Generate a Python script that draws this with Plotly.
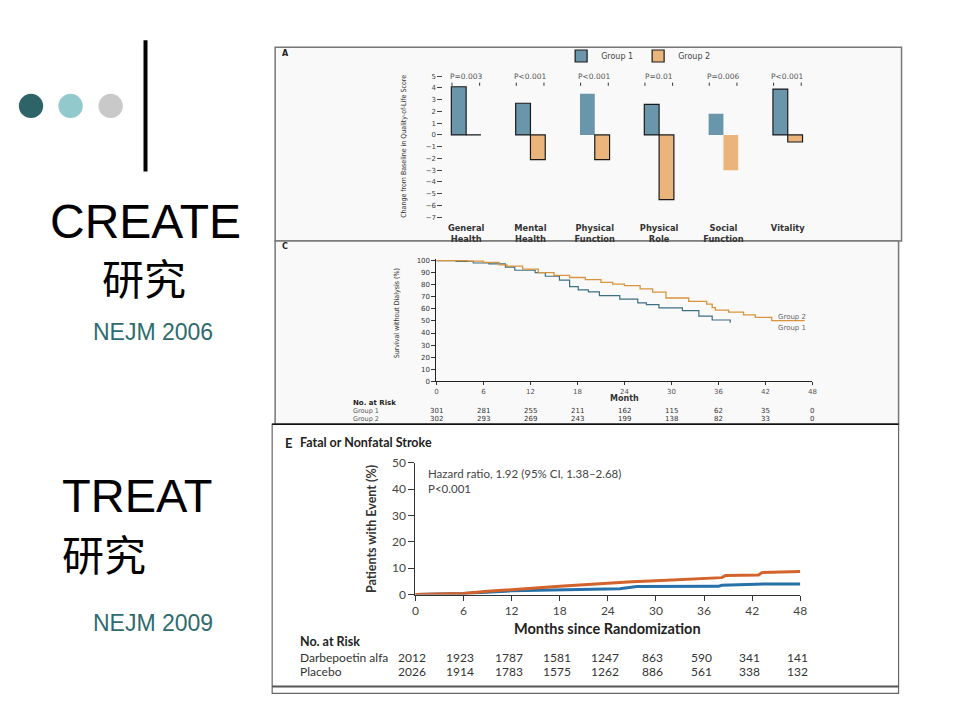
import plotly.graph_objects as go

W, H = 960, 720


def fx(p):
    return p / W


def fy(p):
    return 1 - p / H


# ---------------- Panel A: quality of life ----------------
qol_categories = ["General Health", "Mental Health", "Physical Function",
                  "Physical Role", "Social Function", "Vitality"]
qol_ticktext = ["<b>General</b><br><b>Health</b>", "<b>Mental</b><br><b>Health</b>",
                "<b>Physical</b><br><b>Function</b>", "<b>Physical</b><br><b>Role</b>",
                "<b>Social</b><br><b>Function</b>", "<b>Vitality</b>"]
qol_group1 = [4.1, 2.7, 3.5, 2.6, 1.8, 3.9]
qol_group2 = [0.0, -2.1, -2.1, -5.5, -3.0, -0.6]
qol_pvalues = ["P=0.003", "P<0.001", "P<0.001", "P=0.01", "P=0.006", "P<0.001"]
qol_yticks = [5, 4, 3, 2, 1, 0, -1, -2, -3, -4, -5, -6, -7]

# ---------------- Panel C: survival without dialysis ----------------
dial_g1_month = [0, 2.5, 4.7, 6.7, 8.8, 10.0, 12.6, 13.9, 15.7, 17.0, 18.1, 19.4,
                 20.8, 23.4, 25.7, 26.8, 28.4, 31.4, 33.5, 35.2, 37.5]
dial_g1_surv = [100, 99.4, 98.0, 97.3, 94.6, 92.0, 90.0, 87.0, 83.8, 78.4, 75.7, 74.0,
                71.0, 68.0, 64.9, 63.5, 60.8, 58.6, 54.0, 50.8, 48.6]
dial_g2_month = [0, 4.0, 6.0, 8.0, 9.0, 11.0, 13.0, 15.0, 17.0, 19.0, 21.0, 22.5,
                 24.0, 26.0, 27.6, 29.3, 32.2, 34.5, 35.2, 35.6, 37.3, 39.2, 40.7,
                 42.8, 47.0]
dial_g2_surv = [100, 99.5, 98.5, 96.5, 95.4, 93.0, 90.0, 87.8, 86.0, 84.3, 82.0, 80.5,
                79.2, 76.5, 73.8, 69.0, 66.2, 64.0, 61.0, 59.0, 57.3, 55.1, 53.0,
                50.3, 50.3]
risk_months = [0, 6, 12, 18, 24, 30, 36, 42, 48]
dial_risk_g1 = [301, 281, 255, 211, 162, 115, 62, 35, 0]
dial_risk_g2 = [302, 293, 269, 243, 199, 138, 82, 33, 0]
dial_yticks = [0, 10, 20, 30, 40, 50, 60, 70, 80, 90, 100]

# ---------------- Panel E: fatal or nonfatal stroke ----------------
stroke_darb_month = [0, 3, 6, 9, 12, 15, 18, 21, 24, 27, 30, 33, 36, 38.2, 38.7,
                     42.8, 43.2, 48]
stroke_darb_pct = [0, 0.2, 0.4, 1.2, 1.9, 2.5, 3.1, 3.7, 4.3, 4.8, 5.2, 5.7, 6.2,
                   6.4, 7.2, 7.4, 8.3, 8.7]
stroke_plac_month = [0, 6, 12, 18, 24, 25.5, 27.6, 37.8, 38.2, 43.5, 48]
stroke_plac_pct = [0, 0.4, 1.4, 1.8, 2.1, 2.2, 3.0, 3.1, 3.5, 4.0, 4.0]
stroke_risk_darb = [2012, 1923, 1787, 1581, 1247, 863, 590, 341, 141]
stroke_risk_plac = [2026, 1914, 1783, 1575, 1262, 886, 561, 338, 132]
stroke_yticks = [0, 10, 20, 30, 40, 50]

# colours
A_BLUE, A_ORANGE = "#6a96ac", "#ebb47b"
C_BLUE, C_ORANGE = "#3e6f82", "#d9943e"
E_BLUE, E_ORANGE = "#2671a9", "#d3622b"
SMALL = "DejaVu Sans"
COND = "DejaVu Sans Condensed, Liberation Sans Narrow, DejaVu Sans"
LATO = "Lato"

fig = go.Figure()

# Panel A bars
fig.add_trace(go.Bar(
    x=qol_categories, y=qol_group1, name="Group 1",
    marker=dict(color=A_BLUE, line=dict(color="#1a1a1a", width=[1.2, 1.2, 0, 1.2, 0, 1.2])),
    xaxis="x", yaxis="y"))
fig.add_trace(go.Bar(
    x=qol_categories, y=qol_group2, name="Group 2",
    marker=dict(color=A_ORANGE, line=dict(color="#1a1a1a", width=[1.2, 1.2, 1.2, 1.2, 0, 1.2])),
    xaxis="x", yaxis="y"))

# Panel C curves
fig.add_trace(go.Scatter(x=dial_g1_month, y=dial_g1_surv, mode="lines", line_shape="hv",
                         line=dict(color=C_BLUE, width=1.2), showlegend=False,
                         xaxis="x2", yaxis="y2"))
fig.add_trace(go.Scatter(x=dial_g2_month, y=dial_g2_surv, mode="lines", line_shape="hv",
                         line=dict(color=C_ORANGE, width=1.3), showlegend=False,
                         xaxis="x2", yaxis="y2"))

# Panel E curves
fig.add_trace(go.Scatter(x=stroke_plac_month, y=stroke_plac_pct, mode="lines",
                         line=dict(color=E_BLUE, width=3), showlegend=False,
                         xaxis="x3", yaxis="y3"))
fig.add_trace(go.Scatter(x=stroke_darb_month, y=stroke_darb_pct, mode="lines",
                         line=dict(color=E_ORANGE, width=3), showlegend=False,
                         xaxis="x3", yaxis="y3"))

shapes = []
annotations = []

# ---- panel frames ----
shapes.append(dict(type="rect", xref="paper", yref="paper", x0=fx(275), x1=fx(908),
                   y0=fy(238), y1=fy(40), fillcolor="#f9f9f9",
                   line=dict(color="#777777", width=1.5), layer="below"))
shapes.append(dict(type="rect", xref="paper", yref="paper", x0=fx(275), x1=fx(905),
                   y0=fy(425), y1=fy(238), fillcolor="#f9f9f9",
                   line=dict(color="#777777", width=1.5), layer="below"))
shapes.append(dict(type="rect", xref="paper", yref="paper", x0=fx(272), x1=fx(905),
                   y0=fy(700), y1=fy(425), fillcolor="white",
                   line=dict(color="#666666", width=1.2), layer="below"))
shapes.append(dict(type="line", xref="paper", yref="paper", x0=fx(272), x1=fx(905),
                   y0=fy(425), y1=fy(425), line=dict(color="#111111", width=1.5)))
shapes.append(dict(type="line", xref="paper", yref="paper", x0=fx(272), x1=fx(905),
                   y0=fy(693), y1=fy(693), line=dict(color="#555555", width=2)))

# ---- left side decoration ----
for cx, col in [(28.3, "#2e6467"), (68.3, "#92c9cd"), (108.8, "#c9c9c9")]:
    r = 12.3
    shapes.append(dict(type="circle", xref="paper", yref="paper",
                       x0=fx(cx - r), x1=fx(cx + r), y0=fy(100 + r), y1=fy(100 - r),
                       fillcolor=col, line=dict(width=0)))
shapes.append(dict(type="line", xref="paper", yref="paper", x0=fx(144), x1=fx(144),
                   y0=fy(33), y1=fy(167), line=dict(color="black", width=4)))

BIG = "Liberation Sans, Arial, sans-serif"
CJK = "Noto Sans CJK SC"
annotations += [
    dict(text="CREATE", x=fx(144), y=fy(218), xref="paper", yref="paper",
         xanchor="center", yanchor="middle", showarrow=False,
         font=dict(family=BIG, size=48, color="black")),
    dict(text="研究", x=fx(142), y=fy(274), xref="paper", yref="paper",
         xanchor="center", yanchor="middle", showarrow=False,
         font=dict(family=CJK, size=42, color="black")),
    dict(text="NEJM 2006", x=fx(152), y=fy(331), xref="paper", yref="paper",
         xanchor="center", yanchor="middle", showarrow=False,
         font=dict(family=BIG, size=23, color="#2f6b6e")),
    dict(text="TREAT", x=fx(58), y=fy(498), xref="paper", yref="paper",
         xanchor="left", yanchor="middle", showarrow=False,
         font=dict(family=BIG, size=47, color="black")),
    dict(text="研究", x=fx(58), y=fy(556), xref="paper", yref="paper",
         xanchor="left", yanchor="middle", showarrow=False,
         font=dict(family=CJK, size=42, color="black")),
    dict(text="NEJM 2009", x=fx(152), y=fy(628), xref="paper", yref="paper",
         xanchor="center", yanchor="middle", showarrow=False,
         font=dict(family=BIG, size=23, color="#2f6b6e")),
]

# ---- Panel A texts ----
annotations.append(dict(text="<b>A</b>", x=fx(280), y=fy(46), xref="paper", yref="paper",
                        xanchor="left", yanchor="middle", showarrow=False,
                        font=dict(family=SMALL, size=8, color="#222")))
annotations.append(dict(text="Change from Baseline in Quality-of-Life Score",
                        x=fx(405), y=fy(141), xref="paper", yref="paper", textangle=-90,
                        xanchor="center", yanchor="middle", showarrow=False,
                        font=dict(family=COND, size=7, color="#333")))
for i, p in enumerate(qol_pvalues):
    annotations.append(dict(text=p, x=i, y=4.95, xref="x", yref="y",
                            xanchor="center", yanchor="middle", showarrow=False,
                            font=dict(family=SMALL, size=7.5, color="#555")))
    for off in (-0.22, 0.21):
        shapes.append(dict(type="line", xref="x", yref="y", x0=i + off, x1=i + off,
                           y0=4.18, y1=4.45, line=dict(color="#333", width=1)))

# ---- Panel C texts ----
annotations.append(dict(text="<b>C</b>", x=fx(280), y=fy(244), xref="paper", yref="paper",
                        xanchor="left", yanchor="middle", showarrow=False,
                        font=dict(family=SMALL, size=8, color="#222")))
annotations.append(dict(text="Survival without Dialysis (%)",
                        x=fx(398), y=fy(312), xref="paper", yref="paper", textangle=-90,
                        xanchor="center", yanchor="middle", showarrow=False,
                        font=dict(family=COND, size=7, color="#333")))
annotations.append(dict(text="<b>Month</b>", x=24, y=fy(399), xref="x2", yref="paper",
                        xanchor="center", yanchor="middle", showarrow=False,
                        font=dict(family=SMALL, size=8, color="#333")))
annotations.append(dict(text="Group 2", x=43.3, y=53.2, xref="x2", yref="y2",
                        xanchor="left", yanchor="middle", showarrow=False,
                        font=dict(family=SMALL, size=7, color="#666")))
annotations.append(dict(text="Group 1", x=43.3, y=44.5, xref="x2", yref="y2",
                        xanchor="left", yanchor="middle", showarrow=False,
                        font=dict(family=SMALL, size=7, color="#666")))
annotations.append(dict(text="<b>No. at Risk</b>", x=fx(352), y=fy(403.5), xref="paper",
                        yref="paper", xanchor="left", yanchor="middle", showarrow=False,
                        font=dict(family=SMALL, size=7, color="#222")))
for lab, yy in [("Group 1", 411.5), ("Group 2", 419.5)]:
    annotations.append(dict(text=lab, x=fx(352), y=fy(yy), xref="paper", yref="paper",
                            xanchor="left", yanchor="middle", showarrow=False,
                            font=dict(family=SMALL, size=6.5, color="#555")))
for m, a, b in zip(risk_months, dial_risk_g1, dial_risk_g2):
    annotations.append(dict(text=str(a), x=m, y=fy(411.5), xref="x2", yref="paper",
                            xanchor="center", yanchor="middle", showarrow=False,
                            font=dict(family=SMALL, size=7, color="#333")))
    annotations.append(dict(text=str(b), x=m, y=fy(419.5), xref="x2", yref="paper",
                            xanchor="center", yanchor="middle", showarrow=False,
                            font=dict(family=SMALL, size=7, color="#333")))

# ---- Panel E texts ----
annotations.append(dict(text="<b>E</b>", x=fx(283), y=fy(444), xref="paper", yref="paper",
                        xanchor="left", yanchor="middle", showarrow=False,
                        font=dict(family=LATO, size=13, color="#222")))
annotations.append(dict(text="<b>Fatal or Nonfatal Stroke</b>", x=fx(298), y=fy(444),
                        xref="paper", yref="paper", xanchor="left", yanchor="middle",
                        showarrow=False, font=dict(family=LATO, size=12.5, color="#222")))
annotations.append(dict(text="Hazard ratio, 1.92 (95% CI, 1.38–2.68)<br>P<0.001",
                        x=fx(427), y=fy(483), xref="paper", yref="paper", align="left",
                        xanchor="left", yanchor="middle", showarrow=False,
                        font=dict(family=LATO, size=11.5, color="#444")))
annotations.append(dict(text="<b>Patients with Event (%)</b>", x=fx(373), y=fy(532),
                        xref="paper", yref="paper", textangle=-90, xanchor="center",
                        yanchor="middle", showarrow=False,
                        font=dict(family=LATO, size=12.5, color="#333")))
annotations.append(dict(text="<b>Months since Randomization</b>", x=24, y=fy(634),
                        xref="x3", yref="paper", xanchor="center", yanchor="middle",
                        showarrow=False, font=dict(family=LATO, size=14.5, color="#222")))
annotations.append(dict(text="Darbepoetin alfa", x=48.3, y=9.6, xref="x3", yref="y3",
                        xanchor="left", yanchor="middle", showarrow=False,
                        font=dict(family=LATO, size=12.5, color="#333")))
annotations.append(dict(text="Placebo", x=48.3, y=3.4, xref="x3", yref="y3",
                        xanchor="left", yanchor="middle", showarrow=False,
                        font=dict(family=LATO, size=12.5, color="#333")))
annotations.append(dict(text="<b>No. at Risk</b>", x=fx(298), y=fy(647), xref="paper",
                        yref="paper", xanchor="left", yanchor="middle", showarrow=False,
                        font=dict(family=LATO, size=12.5, color="#222")))
for lab, yy in [("Darbepoetin alfa", 663), ("Placebo", 678)]:
    annotations.append(dict(text=lab, x=fx(298), y=fy(yy), xref="paper", yref="paper",
                            xanchor="left", yanchor="middle", showarrow=False,
                            font=dict(family=LATO, size=12, color="#333")))
for m, a, b in zip(risk_months, stroke_risk_darb, stroke_risk_plac):
    annotations.append(dict(text=str(a), x=m, y=fy(663), xref="x3", yref="paper",
                            xanchor="center", yanchor="middle", showarrow=False, xshift=-3,
                            font=dict(family=LATO, size=12, color="#333")))
    annotations.append(dict(text=str(b), x=m, y=fy(678), xref="x3", yref="paper",
                            xanchor="center", yanchor="middle", showarrow=False, xshift=-3,
                            font=dict(family=LATO, size=12, color="#333")))

noline = dict(showgrid=False, zeroline=False)

fig.update_layout(
    width=W, height=H, margin=dict(l=0, r=0, t=0, b=0),
    paper_bgcolor="white", plot_bgcolor="rgba(0,0,0,0)",
    barmode="group", bargap=0.54, bargroupgap=0,
    showlegend=True,
    legend=dict(orientation="h", x=fx(564), y=fy(49), xanchor="left", yanchor="middle",
                font=dict(family=SMALL, size=8, color="#444"), bgcolor="rgba(0,0,0,0)",
                itemwidth=30, tracegroupgap=0),
    xaxis=dict(domain=[fx(445), fx(825.5)], anchor="y", type="category",
               categoryorder="array", categoryarray=qol_categories,
               tickmode="array", tickvals=qol_categories, ticktext=qol_ticktext,
               range=[-0.354, 5.5], showline=False, ticks="",
               tickfont=dict(family=SMALL, size=8.3, color="#333"), **noline),
    yaxis=dict(domain=[fy(218), fy(64)], anchor="x", range=[-7.36, 5.47],
               tickmode="array", tickvals=qol_yticks, ticks="outside", ticklen=5,
               tickcolor="#444", showline=False,
               tickfont=dict(family=SMALL, size=7, color="#444"), **noline),
    xaxis2=dict(domain=[fx(438), fx(818)], anchor="y2", range=[0, 48],
                tickmode="array", tickvals=risk_months, ticks="outside", ticklen=3,
                tickcolor="#333", showline=True, linecolor="#222", linewidth=1,
                tickfont=dict(family=SMALL, size=7, color="#555"), **noline),
    yaxis2=dict(domain=[fy(381.3), fy(256.1)], anchor="x2", range=[0, 101.5],
                tickmode="array", tickvals=dial_yticks, ticks="outside", ticklen=4,
                tickcolor="#333", showline=True, linecolor="#222", linewidth=1,
                tickfont=dict(family=SMALL, size=7, color="#333"), **noline),
    xaxis3=dict(domain=[fx(416.7), fx(805.7)], anchor="y3", range=[0, 48],
                tickmode="array", tickvals=risk_months, ticks="outside", ticklen=5,
                tickcolor="#333", showline=True, linecolor="#333", linewidth=1.2,
                tickfont=dict(family=LATO, size=12, color="#444"), **noline),
    yaxis3=dict(domain=[fy(599), fy(464.3)], anchor="x3", range=[0, 50],
                tickmode="array", tickvals=stroke_yticks, ticks="outside", ticklen=6,
                tickcolor="#333", showline=True, linecolor="#333", linewidth=1.2,
                tickfont=dict(family=LATO, size=12, color="#444"), **noline),
    shapes=shapes, annotations=annotations,
)

fig.write_html("out.html", config={"displayModeBar": False},
               post_script="document.body.style.margin='0';"
                           "document.body.style.overflow='hidden';")
